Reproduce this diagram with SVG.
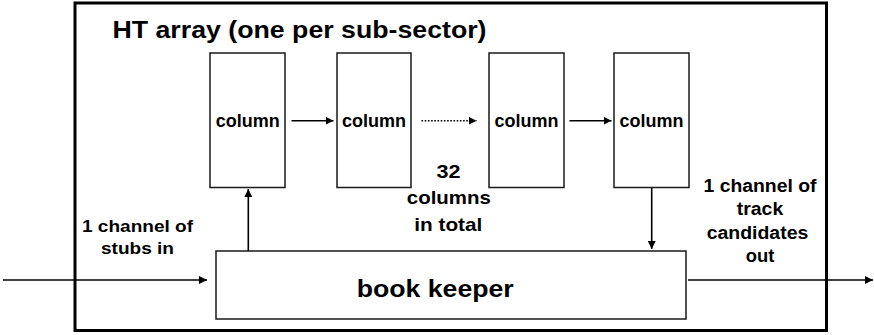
<svg xmlns="http://www.w3.org/2000/svg" width="874" height="335" viewBox="0 0 874 335">
  <style>
    .frame { fill: none; stroke: #000; stroke-width: 3; }
    .box { fill: #fff; stroke: #1a1a1a; stroke-width: 1.5; }
    .lbl { font-family: "Liberation Sans", Arial, sans-serif; font-weight: bold; fill: #000; }
    .col { font-size: 18px; text-anchor: middle; }
    .wire { fill: none; stroke: #000; stroke-width: 1.6; }
    .dotted { stroke-dasharray: 1.6 1.6; }
  </style>
  <defs>
    <marker id="head" viewBox="0 0 10 10" refX="10" refY="5" markerUnits="userSpaceOnUse" markerWidth="8" markerHeight="8" orient="auto">
      <path d="M0,0 L10,5 L0,10 z" fill="#000"/>
    </marker>
  </defs>

  <rect width="874" height="335" fill="#fff"/>

  <!-- outer container: the HT array -->
  <g id="ht-array">
    <rect class="frame" x="75" y="3" width="751.5" height="327.5"/>
    <text class="lbl" x="112.5" y="38.3" font-size="23" textLength="374" lengthAdjust="spacingAndGlyphs">HT array (one per sub-sector)</text>
  </g>

  <!-- columns -->
  <g id="column-1">
    <rect class="box" x="210" y="53" width="75" height="134.5"/>
    <text class="lbl col" x="247.8" y="126.5">column</text>
  </g>
  <g id="column-2">
    <rect class="box" x="337" y="53" width="74" height="134.5"/>
    <text class="lbl col" x="374" y="126.5">column</text>
  </g>
  <g id="column-3">
    <rect class="box" x="489" y="53" width="75" height="134.5"/>
    <text class="lbl col" x="526.5" y="126.5">column</text>
  </g>
  <g id="column-4">
    <rect class="box" x="614" y="53" width="75" height="134.5"/>
    <text class="lbl col" x="651.5" y="126.5">column</text>
  </g>

  <!-- book keeper -->
  <g id="book-keeper">
    <rect class="box" x="216" y="251" width="470" height="68"/>
    <text class="lbl" x="356.7" y="296.5" font-size="23" textLength="157" lengthAdjust="spacingAndGlyphs">book keeper</text>
  </g>

  <!-- annotations -->
  <g id="label-in" class="lbl" font-size="17" text-anchor="middle">
    <text x="137.5" y="232" textLength="111" lengthAdjust="spacingAndGlyphs">1 channel of</text>
    <text x="137.5" y="254" textLength="73" lengthAdjust="spacingAndGlyphs">stubs in</text>
  </g>
  <g id="label-count" class="lbl" font-size="18.5" text-anchor="middle">
    <text x="448.6" y="178.3" textLength="24" lengthAdjust="spacingAndGlyphs">32</text>
    <text x="448.8" y="204.3" textLength="84" lengthAdjust="spacingAndGlyphs">columns</text>
    <text x="448.3" y="231" textLength="68" lengthAdjust="spacingAndGlyphs">in total</text>
  </g>
  <g id="label-out" class="lbl" font-size="17.5" text-anchor="middle">
    <text x="760" y="191.5" textLength="113" lengthAdjust="spacingAndGlyphs">1 channel of</text>
    <text x="760" y="215" textLength="46.5" lengthAdjust="spacingAndGlyphs">track</text>
    <text x="757.5" y="239" textLength="101.5" lengthAdjust="spacingAndGlyphs">candidates</text>
    <text x="760" y="262" textLength="28.6" lengthAdjust="spacingAndGlyphs">out</text>
  </g>

  <!-- connectors -->
  <g id="connectors">
    <line class="wire" x1="291.5" y1="120.7" x2="333.5" y2="120.7" marker-end="url(#head)"/>
    <line class="wire dotted" x1="421.5" y1="120.7" x2="476.5" y2="120.7" marker-end="url(#head)"/>
    <line class="wire" x1="569.5" y1="120.7" x2="611.5" y2="120.7" marker-end="url(#head)"/>
    <line class="wire" x1="248.3" y1="251" x2="248.3" y2="189" marker-end="url(#head)"/>
    <line class="wire" x1="651.7" y1="188" x2="651.7" y2="249" marker-end="url(#head)"/>
    <line class="wire" stroke-width="2" x1="3" y1="280" x2="207" y2="280" marker-end="url(#head)"/>
    <line class="wire" stroke-width="2" x1="688" y1="280" x2="873" y2="280" marker-end="url(#head)"/>
  </g>
</svg>
